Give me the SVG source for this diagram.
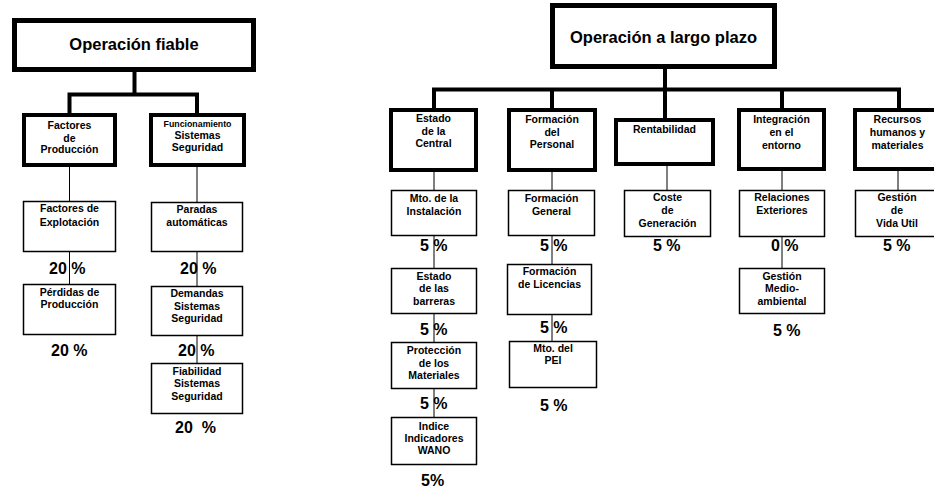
<svg xmlns="http://www.w3.org/2000/svg" width="934" height="491" viewBox="0 0 934 491">
<style>
  .bg { fill: #ffffff; }
  .top { fill: #ffffff; stroke: #000; stroke-width: 5; }
  .mid { fill: #ffffff; stroke: #000; stroke-width: 4; }
  .leaf { fill: #ffffff; stroke: #000; stroke-width: 1.5; }
  .conn-thick { fill: none; stroke: #000; stroke-width: 4; }
  .conn-thin { fill: none; stroke: #000; stroke-width: 1; }
  text { font-family: "Liberation Sans", Arial, sans-serif; font-weight: bold; fill: #000; }
  .title { font-size: 16.5px; text-anchor: middle; }
  .lbl { font-size: 10.5px; text-anchor: middle; }
  .small { font-size: 8.8px; text-anchor: middle; }
  .pct { font-size: 16px; white-space: pre; }
</style>
<rect class="bg" x="0" y="0" width="934" height="491"/>

<g id="connectors">
  <!-- left tree -->
  <path class="conn-thick" d="M134.5 72 V94.5 M69.5 113 V94.5 H197 V113"/>
  <path class="conn-thin" d="M69.5 167 V284 M197 167 V363"/>
  <!-- right tree -->
  <path class="conn-thick" d="M665 69 V89.5 M434 108 V89.5 H899 V108 M552 108 V89.5 M665 89.5 V118 M782 108 V89.5"/>
  <path class="conn-thin" d="M434 172 V417 M552 172 V341 M667 166 V190 M782 171 V268 M898 171 V190"/>
</g>

<!-- Left tree -->
<g id="operacion-fiable">
  <rect class="top" x="14.5" y="20.5" width="239" height="49"/>
  <text class="title" x="134" y="50">Operación fiable</text>
</g>
<g id="factores-produccion">
  <rect class="mid" x="24" y="115" width="91" height="50"/>
  <text class="lbl" x="69.5" y="129">Factores</text>
  <text class="lbl" x="69.5" y="142">de</text>
  <text class="lbl" x="69.5" y="153">Producción</text>
</g>
<g id="funcionamiento-sistemas">
  <rect class="mid" x="151" y="115" width="93" height="50"/>
  <text class="small" x="197.5" y="126.5">Funcionamiento</text>
  <text class="lbl" x="197.5" y="139">Sistemas</text>
  <text class="lbl" x="197.5" y="151">Seguridad</text>
</g>
<g id="factores-explotacion">
  <rect class="leaf" x="23.5" y="201.5" width="92" height="50"/>
  <text class="lbl" x="69.5" y="212">Factores de</text>
  <text class="lbl" x="69.5" y="225.5">Explotación</text>
  <text class="pct" x="49" y="274">20 %</text>
</g>
<g id="perdidas-produccion">
  <rect class="leaf" x="23.5" y="284.5" width="92" height="50"/>
  <text class="lbl" x="69.5" y="296">Pérdidas de</text>
  <text class="lbl" x="69.5" y="308">Producción</text>
  <text class="pct" x="51" y="356">20 %</text>
</g>
<g id="paradas-automaticas">
  <rect class="leaf" x="151.5" y="202.5" width="91" height="49"/>
  <text class="lbl" x="197" y="212.5">Paradas</text>
  <text class="lbl" x="197" y="226">automáticas</text>
  <text class="pct" x="180" y="274">20 %</text>
</g>
<g id="demandas-sistemas">
  <rect class="leaf" x="151.5" y="286.5" width="91" height="49"/>
  <text class="lbl" x="197" y="297">Demandas</text>
  <text class="lbl" x="197" y="310">Sistemas</text>
  <text class="lbl" x="197" y="322">Seguridad</text>
  <text class="pct" x="178" y="356">20 %</text>
</g>
<g id="fiabilidad-sistemas">
  <rect class="leaf" x="151.5" y="363.5" width="91" height="50"/>
  <text class="lbl" x="197" y="375">Fiabilidad</text>
  <text class="lbl" x="197" y="387">Sistemas</text>
  <text class="lbl" x="197" y="400">Seguridad</text>
  <text class="pct" x="175" y="433" xml:space="preserve">20  %</text>
</g>

<!-- Right tree -->
<g id="operacion-largo-plazo">
  <rect class="top" x="552.5" y="5.5" width="222" height="61"/>
  <text class="title" x="663.5" y="43">Operación a largo plazo</text>
</g>
<g id="estado-central">
  <rect class="mid" x="391" y="110" width="85" height="60"/>
  <text class="lbl" x="433.5" y="122">Estado</text>
  <text class="lbl" x="433.5" y="135">de la</text>
  <text class="lbl" x="433.5" y="147">Central</text>
</g>
<g id="formacion-personal">
  <rect class="mid" x="509" y="110" width="86" height="60"/>
  <text class="lbl" x="552" y="123">Formación</text>
  <text class="lbl" x="552" y="136">del</text>
  <text class="lbl" x="552" y="148">Personal</text>
</g>
<g id="rentabilidad">
  <rect class="mid" x="616" y="120" width="97" height="44"/>
  <text class="lbl" x="664.5" y="133">Rentabilidad</text>
</g>
<g id="integracion-entorno">
  <rect class="mid" x="739" y="110" width="85" height="59"/>
  <text class="lbl" x="781.5" y="123">Integración</text>
  <text class="lbl" x="781.5" y="136">en el</text>
  <text class="lbl" x="781.5" y="149">entorno</text>
</g>
<g id="recursos-humanos">
  <rect class="mid" x="855" y="110" width="86" height="59"/>
  <text class="lbl" x="897.5" y="123">Recursos</text>
  <text class="lbl" x="897.5" y="136">humanos y</text>
  <text class="lbl" x="897.5" y="149">materiales</text>
</g>

<g id="mto-instalacion">
  <rect class="leaf" x="391.5" y="190.5" width="85" height="45"/>
  <text class="lbl" x="434" y="202">Mto. de la</text>
  <text class="lbl" x="434" y="215">Instalación</text>
  <text class="pct" x="420" y="251">5 %</text>
</g>
<g id="estado-barreras">
  <rect class="leaf" x="391.5" y="268.5" width="85" height="45"/>
  <text class="lbl" x="434" y="280">Estado</text>
  <text class="lbl" x="434" y="292">de las</text>
  <text class="lbl" x="434" y="305">barreras</text>
  <text class="pct" x="420" y="335">5 %</text>
</g>
<g id="proteccion-materiales">
  <rect class="leaf" x="391.5" y="342.5" width="85" height="46"/>
  <text class="lbl" x="434" y="354">Protección</text>
  <text class="lbl" x="434" y="367">de los</text>
  <text class="lbl" x="434" y="379">Materiales</text>
  <text class="pct" x="420" y="409">5 %</text>
</g>
<g id="indicadores-wano">
  <rect class="leaf" x="391.5" y="417.5" width="85" height="47"/>
  <text class="lbl" x="434" y="430">Indice</text>
  <text class="lbl" x="434" y="442">Indicadores</text>
  <text class="lbl" x="434" y="454">WANO</text>
  <text class="pct" x="421" y="486">5%</text>
</g>

<g id="formacion-general">
  <rect class="leaf" x="508.5" y="190.5" width="86" height="45"/>
  <text class="lbl" x="551.5" y="202">Formación</text>
  <text class="lbl" x="551.5" y="215">General</text>
  <text class="pct" x="540" y="251">5 %</text>
</g>
<g id="formacion-licencias">
  <rect class="leaf" x="507.5" y="264.5" width="84" height="50"/>
  <text class="lbl" x="549.5" y="275">Formación</text>
  <text class="lbl" x="549.5" y="288">de Licencias</text>
  <text class="pct" x="540" y="333">5 %</text>
</g>
<g id="mto-pei">
  <rect class="leaf" x="509.5" y="341.5" width="87" height="46"/>
  <text class="lbl" x="553" y="352">Mto. del</text>
  <text class="lbl" x="553" y="364">PEI</text>
  <text class="pct" x="540" y="411">5 %</text>
</g>

<g id="coste-generacion">
  <rect class="leaf" x="624.5" y="190.5" width="86" height="46"/>
  <text class="lbl" x="667.5" y="201">Coste</text>
  <text class="lbl" x="667.5" y="214">de</text>
  <text class="lbl" x="667.5" y="227">Generación</text>
  <text class="pct" x="653" y="251">5 %</text>
</g>

<g id="relaciones-exteriores">
  <rect class="leaf" x="739.5" y="190.5" width="85" height="46"/>
  <text class="lbl" x="782" y="201">Relaciones</text>
  <text class="lbl" x="782" y="214">Exteriores</text>
  <text class="pct" x="771" y="251">0 %</text>
</g>
<g id="gestion-medioambiental">
  <rect class="leaf" x="739.5" y="268.5" width="85" height="45"/>
  <text class="lbl" x="782" y="280">Gestión</text>
  <text class="lbl" x="782" y="292">Medio-</text>
  <text class="lbl" x="782" y="305">ambiental</text>
  <text class="pct" x="773" y="336">5 %</text>
</g>

<g id="gestion-vida-util">
  <rect class="leaf" x="855.5" y="190.5" width="85" height="46"/>
  <text class="lbl" x="897" y="201">Gestión</text>
  <text class="lbl" x="897" y="214">de</text>
  <text class="lbl" x="897" y="227">Vida Util</text>
  <text class="pct" x="883" y="251">5 %</text>
</g>
</svg>
